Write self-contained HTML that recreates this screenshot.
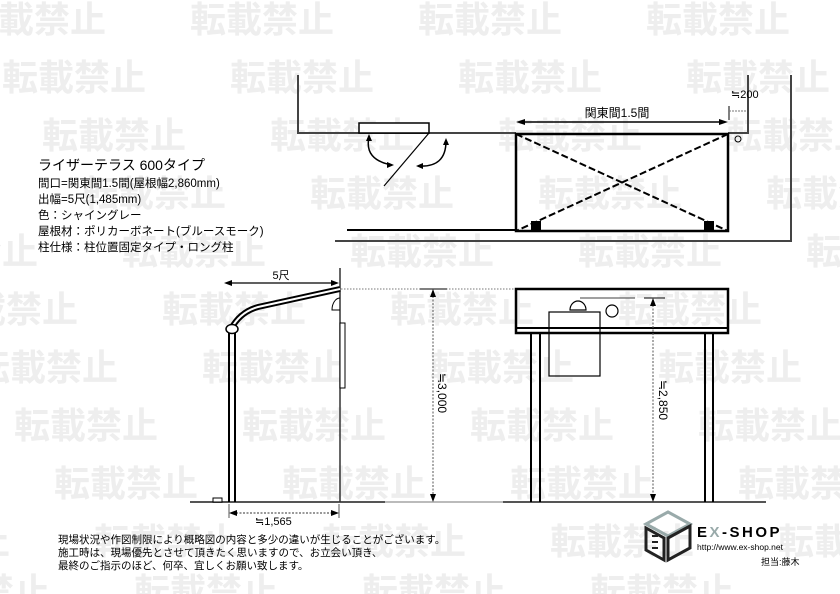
<!DOCTYPE html>
<html><head><meta charset="utf-8"><style>
html,body{margin:0;padding:0;background:#fff}
svg{display:block}
text{font-family:"Liberation Sans","Noto Sans CJK JP",sans-serif}
</style></head><body>
<svg width="840" height="594" viewBox="0 0 840 594" xmlns="http://www.w3.org/2000/svg">
<g fill="#eeeeee" font-size="36" font-weight="bold" font-family="'Noto Sans CJK JP',sans-serif">
<text x="-38" y="32">転載禁止</text><text x="190" y="32">転載禁止</text><text x="418" y="32">転載禁止</text><text x="646" y="32">転載禁止</text>
<text x="2" y="90">転載禁止</text><text x="230" y="90">転載禁止</text><text x="458" y="90">転載禁止</text><text x="686" y="90">転載禁止</text>
<text x="-186" y="148">転載禁止</text><text x="42" y="148">転載禁止</text><text x="270" y="148">転載禁止</text><text x="498" y="148">転載禁止</text><text x="726" y="148">転載禁止</text>
<text x="-146" y="206">転載禁止</text><text x="82" y="206">転載禁止</text><text x="310" y="206">転載禁止</text><text x="538" y="206">転載禁止</text><text x="766" y="206">転載禁止</text>
<text x="-106" y="264">転載禁止</text><text x="122" y="264">転載禁止</text><text x="350" y="264">転載禁止</text><text x="578" y="264">転載禁止</text><text x="806" y="264">転載禁止</text>
<text x="-66" y="322">転載禁止</text><text x="162" y="322">転載禁止</text><text x="390" y="322">転載禁止</text><text x="618" y="322">転載禁止</text>
<text x="-26" y="380">転載禁止</text><text x="202" y="380">転載禁止</text><text x="430" y="380">転載禁止</text><text x="658" y="380">転載禁止</text>
<text x="14" y="438">転載禁止</text><text x="242" y="438">転載禁止</text><text x="470" y="438">転載禁止</text><text x="698" y="438">転載禁止</text>
<text x="-174" y="496">転載禁止</text><text x="54" y="496">転載禁止</text><text x="282" y="496">転載禁止</text><text x="510" y="496">転載禁止</text><text x="738" y="496">転載禁止</text>
<text x="-134" y="554">転載禁止</text><text x="94" y="554">転載禁止</text><text x="322" y="554">転載禁止</text><text x="550" y="554">転載禁止</text><text x="778" y="554">転載禁止</text>
<text x="-94" y="604">転載禁止</text><text x="134" y="604">転載禁止</text><text x="362" y="604">転載禁止</text><text x="590" y="604">転載禁止</text>
</g>

<!-- Plan view -->
<g stroke="#444" fill="none" stroke-width="2">
<polyline points="298,75 298,133 516,133"/>
<polyline points="748,75 748,133 728,133"/>
<polyline points="791,75 791,241 335,241"/>
<line x1="347" y1="230" x2="516" y2="230" stroke="#000"/>
</g>
<rect x="359" y="123" width="70" height="10" fill="#fff" stroke="#000" stroke-width="1.5"/>
<line x1="429" y1="133" x2="384" y2="186" stroke="#000" stroke-width="1.2"/>
<path d="M369,137 Q364,160 392,165" fill="none" stroke="#000" stroke-width="1.5"/>
<path d="M446,141 Q446,168 418,166" fill="none" stroke="#000" stroke-width="1.5"/>
<polygon points="369,134 366,141 372,141" fill="#000"/>
<polygon points="394,165 387,162 387,168" fill="#000"/>
<polygon points="446,138 443,145 449,145" fill="#000"/>
<polygon points="416,166 423,163 423,169" fill="#000"/>
<rect x="516" y="134" width="212" height="97" fill="none" stroke="#000" stroke-width="2.5"/>
<line x1="516" y1="134" x2="728" y2="231" stroke="#000" stroke-width="2" stroke-dasharray="7,3"/>
<line x1="728" y1="134" x2="516" y2="231" stroke="#000" stroke-width="2" stroke-dasharray="7,3"/>
<rect x="531" y="221" width="10" height="10" fill="#000"/>
<rect x="704" y="221" width="10" height="10" fill="#000"/>
<line x1="522" y1="122" x2="722" y2="122" stroke="#000" stroke-width="1.5"/>
<polygon points="516,122 525,119 525,125" fill="#000"/>
<polygon points="728,122 719,119 719,125" fill="#000"/>
<text x="617" y="117" font-size="12" text-anchor="middle">関東間1.5間</text>
<text x="731" y="98" font-size="11">≒200</text>
<line x1="729" y1="106" x2="729" y2="120" stroke="#000" stroke-width="1"/>
<line x1="729" y1="111" x2="747" y2="111" stroke="#777" stroke-width="1" stroke-dasharray="2,1"/>
<circle cx="738" cy="139" r="3" fill="none" stroke="#000" stroke-width="1"/>

<!-- Spec text -->
<text x="38" y="170" font-size="14">ライザーテラス 600タイプ</text>
<g font-size="11.5">
<text x="38" y="187">間口=関東間1.5間(屋根幅2,860mm)</text>
<text x="38" y="203">出幅=5尺(1,485mm)</text>
<text x="38" y="219">色：シャイングレー</text>
<text x="38" y="235">屋根材：ポリカーボネート(ブルースモーク)</text>
<text x="38" y="251">柱仕様：柱位置固定タイプ・ロング柱</text>
</g>

<!-- Ground -->
<line x1="190" y1="502" x2="385" y2="502" stroke="#555" stroke-width="2"/>
<line x1="385" y1="502" x2="503" y2="502" stroke="#bbb" stroke-width="2"/>
<line x1="503" y1="502" x2="766" y2="502" stroke="#555" stroke-width="2"/>

<!-- Side view -->
<line x1="340" y1="268" x2="340" y2="502" stroke="#333" stroke-width="1.5"/>
<rect x="340" y="323" width="5" height="65" fill="#fff" stroke="#000" stroke-width="1"/>
<path d="M340,298 A8,12 0 0 0 332,310 L340,310" fill="none" stroke="#000" stroke-width="1"/>
<line x1="229" y1="333" x2="229" y2="502" stroke="#000" stroke-width="2"/>
<line x1="235" y1="333" x2="235" y2="502" stroke="#000" stroke-width="2"/>
<path d="M231,329 Q240,312 258,307 L340,289" fill="none" stroke="#000" stroke-width="6"/>
<path d="M231,329 Q240,312 258,307 L340,289" fill="none" stroke="#fff" stroke-width="2"/>
<ellipse cx="232" cy="329" rx="6" ry="4.5" fill="#fff" stroke="#000" stroke-width="1.5"/>
<rect x="213" y="498" width="9" height="4" fill="#fff" stroke="#000" stroke-width="1"/>
<line x1="230" y1="283" x2="334" y2="283" stroke="#000" stroke-width="1.2"/>
<polygon points="224,283 232,280 232,286" fill="#000"/>
<polygon points="339,283 331,280 331,286" fill="#000"/>
<text x="281" y="279" font-size="11" text-anchor="middle">5尺</text>
<line x1="341" y1="289" x2="515" y2="289" stroke="#777" stroke-width="1" stroke-dasharray="1.5,1.5"/>
<line x1="420" y1="289" x2="447" y2="289" stroke="#000" stroke-width="1"/>
<line x1="433" y1="296" x2="433" y2="496" stroke="#555" stroke-width="1" stroke-dasharray="2,1.5"/>
<polygon points="433,289 430,297 436,297" fill="#000"/>
<polygon points="433,502 430,494 436,494" fill="#000"/>
<text transform="translate(438,393) rotate(90)" font-size="12" text-anchor="middle">≒3,000</text>
<line x1="229" y1="504" x2="229" y2="518" stroke="#555" stroke-width="1"/>
<line x1="339" y1="504" x2="339" y2="518" stroke="#555" stroke-width="1"/>
<line x1="236" y1="513" x2="332" y2="513" stroke="#333" stroke-width="1" stroke-dasharray="2,1.5"/>
<polygon points="229,513 237,510 237,516" fill="#000"/>
<polygon points="339,513 331,510 331,516" fill="#000"/>
<text x="255" y="525" font-size="11">≒1,565</text>

<!-- Front view -->
<rect x="516" y="289" width="212" height="44" fill="none" stroke="#000" stroke-width="2.5"/>
<line x1="516" y1="328" x2="728" y2="328" stroke="#000" stroke-width="2"/>
<line x1="531" y1="333" x2="531" y2="502" stroke="#000" stroke-width="2"/>
<line x1="540" y1="333" x2="540" y2="502" stroke="#000" stroke-width="2"/>
<line x1="705" y1="333" x2="705" y2="502" stroke="#000" stroke-width="2"/>
<line x1="713" y1="333" x2="713" y2="502" stroke="#000" stroke-width="2"/>
<rect x="549" y="312" width="51" height="64" fill="none" stroke="#000" stroke-width="1.2"/>
<path d="M570,310 A8,9 0 0 1 586,310 Z" fill="#fff" stroke="#000" stroke-width="1.2"/>
<circle cx="612" cy="311" r="6" fill="none" stroke="#000" stroke-width="1.2"/>
<line x1="580" y1="298" x2="635" y2="298" stroke="#000" stroke-width="0.8"/>
<line x1="644" y1="298" x2="665" y2="298" stroke="#000" stroke-width="1"/>
<line x1="653" y1="305" x2="653" y2="496" stroke="#555" stroke-width="1" stroke-dasharray="2,1.5"/>
<polygon points="653,298 650,306 656,306" fill="#000"/>
<polygon points="653,502 650,494 656,494" fill="#000"/>
<text transform="translate(659,400) rotate(90)" font-size="12" text-anchor="middle">≒2,850</text>

<!-- Notes -->
<g font-size="10.5">
<text x="58" y="543">現場状況や作図制限により概略図の内容と多少の違いが生じることがございます。</text>
<text x="58" y="556">施工時は、現場優先とさせて頂きたく思いますので、お立会い頂き、</text>
<text x="58" y="569">最終のご指示のほど、何卒、宜しくお願い致します。</text>
</g>

<!-- Logo -->
<polygon points="668,512 690,524 668,536 646,524" fill="none" stroke="#9aa" stroke-width="3"/>
<polygon points="646,528 664,538 664,560 646,550" fill="none" stroke="#222" stroke-width="3"/>
<polygon points="668,538 690,526 690,548 668,560" fill="none" stroke="#222" stroke-width="3"/>
<path d="M652,536 h6 M652,542 h6 M652,548 h6" stroke="#222" stroke-width="2"/>
<text x="697" y="537" font-size="15" font-weight="bold" letter-spacing="2.5">E<tspan fill="#9aa">X</tspan>-SHOP</text>
<text x="697" y="550" font-size="8.5">http://www.ex-shop.net</text>
<text x="761" y="565" font-size="9">担当:藤木</text>
</svg>
</body></html>
